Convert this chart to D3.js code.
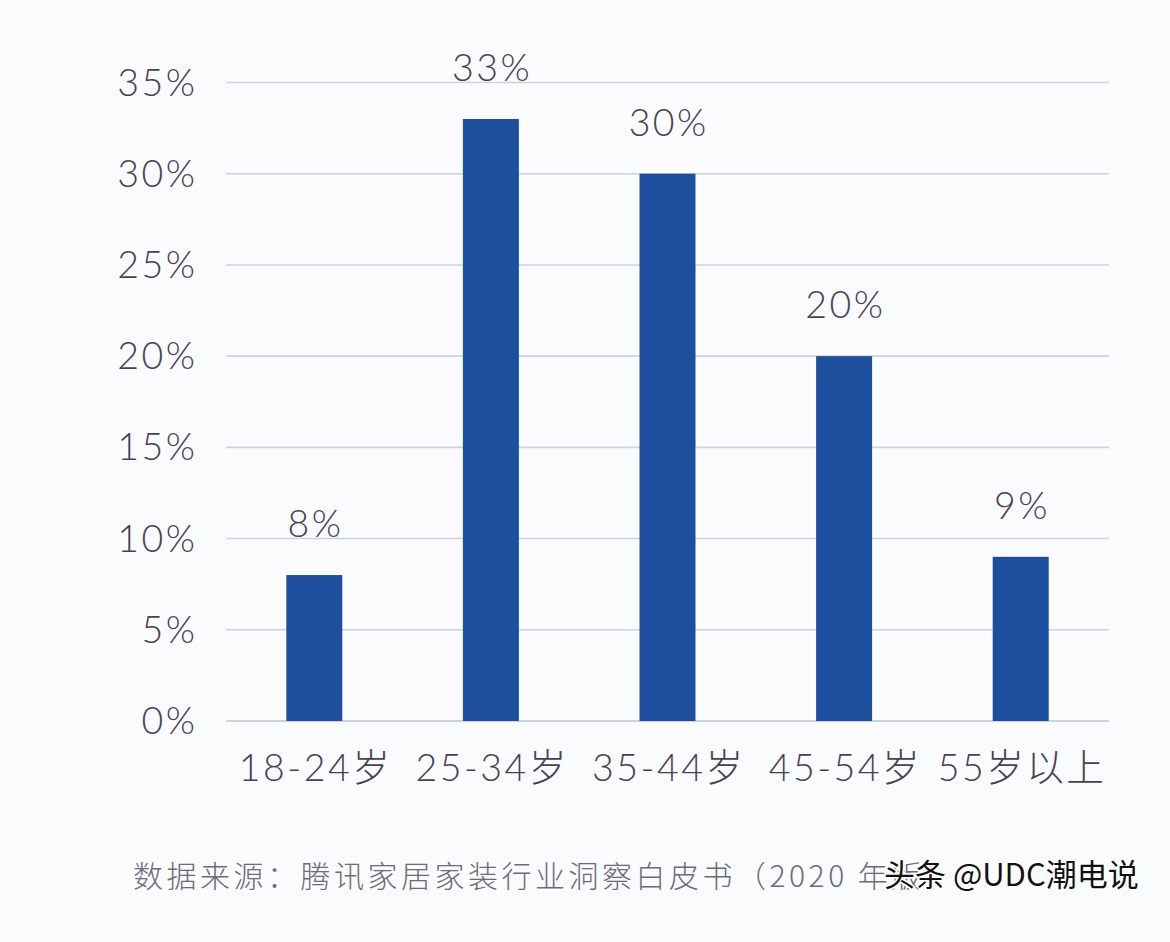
<!DOCTYPE html>
<html><head><meta charset="utf-8">
<script src="https://cdn.jsdelivr.net/npm/d3@7"></script>
<style>
html,body{margin:0;padding:0;background:#fafbfd;}
svg{display:block;}
</style></head>
<body>
<svg id="c" width="1170" height="942"></svg>
<script>
const categories = ["18-24岁", "25-34岁", "35-44岁", "45-54岁", "55岁以上"];
const values = [8, 33, 30, 20, 9];
const valueLabels = ["8%", "33%", "30%", "20%", "9%"];
const yTicks = [0, 5, 10, 15, 20, 25, 30, 35];
const yTickLabels = ["0%", "5%", "10%", "15%", "20%", "25%", "30%", "35%"];
const sourceText = "数据来源：腾讯家居家装行业洞察白皮书（2020 年版）";
const watermark = "头条 @UDC潮电说";

const svg = d3.select("#c");
const font = "Lato, 'Noto Sans CJK SC', sans-serif";
const textColor = "#4a4056";
const fs = 37.5, ls = 2.5;

svg.append("rect").attr("width",1170).attr("height",942).attr("fill","#fafbfd");

const x = d3.scaleBand().domain(categories).range([226, 1109]).paddingInner(0.683).paddingOuter(0.3415);
const y = d3.scaleLinear().domain([0, 35]).range([721, 82.5]);

// gridlines
svg.append("g").selectAll("line").data(yTicks).join("line")
  .attr("x1", 226).attr("x2", 1109)
  .attr("y1", d => y(d)).attr("y2", d => y(d))
  .attr("stroke", d => d === 0 ? "#bfc6cf" : "#cdd3da").attr("stroke-width", 1.6);

// y tick labels
svg.append("g").selectAll("text").data(yTicks).join("text")
  .attr("x", 195 + ls).attr("y", d => y(d) + 13)
  .attr("text-anchor", "end")
  .attr("font-family", font).attr("font-weight", 300).attr("font-size", fs)
  .attr("letter-spacing", ls)
  .attr("fill", textColor)
  .text((d, i) => yTickLabels[i]);

// bars
svg.append("g").selectAll("rect").data(values).join("rect")
  .attr("x", (d, i) => x(categories[i]))
  .attr("width", x.bandwidth())
  .attr("y", d => y(d))
  .attr("height", d => y(0) - y(d))
  .attr("fill", "#1e4f9e");

// value labels
svg.append("g").selectAll("text").data(values).join("text")
  .attr("x", (d, i) => x(categories[i]) + x.bandwidth() / 2 + ls / 2)
  .attr("y", d => y(d) - 38)
  .attr("text-anchor", "middle")
  .attr("font-family", font).attr("font-weight", 300).attr("font-size", fs)
  .attr("letter-spacing", ls)
  .attr("fill", textColor)
  .text((d, i) => valueLabels[i]);

// category labels
svg.append("g").selectAll("text").data(categories).join("text")
  .attr("x", d => x(d) + x.bandwidth() / 2 + ls / 2)
  .attr("y", 781)
  .attr("text-anchor", "middle")
  .attr("font-family", font).attr("font-weight", 300).attr("font-size", fs)
  .attr("letter-spacing", ls)
  .attr("fill", textColor)
  .text(d => d);

// source
svg.append("text").attr("x", 133).attr("y", 887)
  .attr("font-family", "'Noto Sans CJK SC', sans-serif").attr("font-weight", 300).attr("font-size", 30)
  .attr("letter-spacing", 3.5)
  .attr("fill", "#6e6a78")
  .text(sourceText);

// watermark
svg.append("text").attr("x", 884).attr("y", 886)
  .attr("font-family", "'Noto Sans CJK SC', sans-serif").attr("font-size", 31)
  .attr("fill", "#111").attr("stroke", "#fff").attr("stroke-width", 3).attr("paint-order", "stroke")
  .text(watermark);
</script>
</body></html>
